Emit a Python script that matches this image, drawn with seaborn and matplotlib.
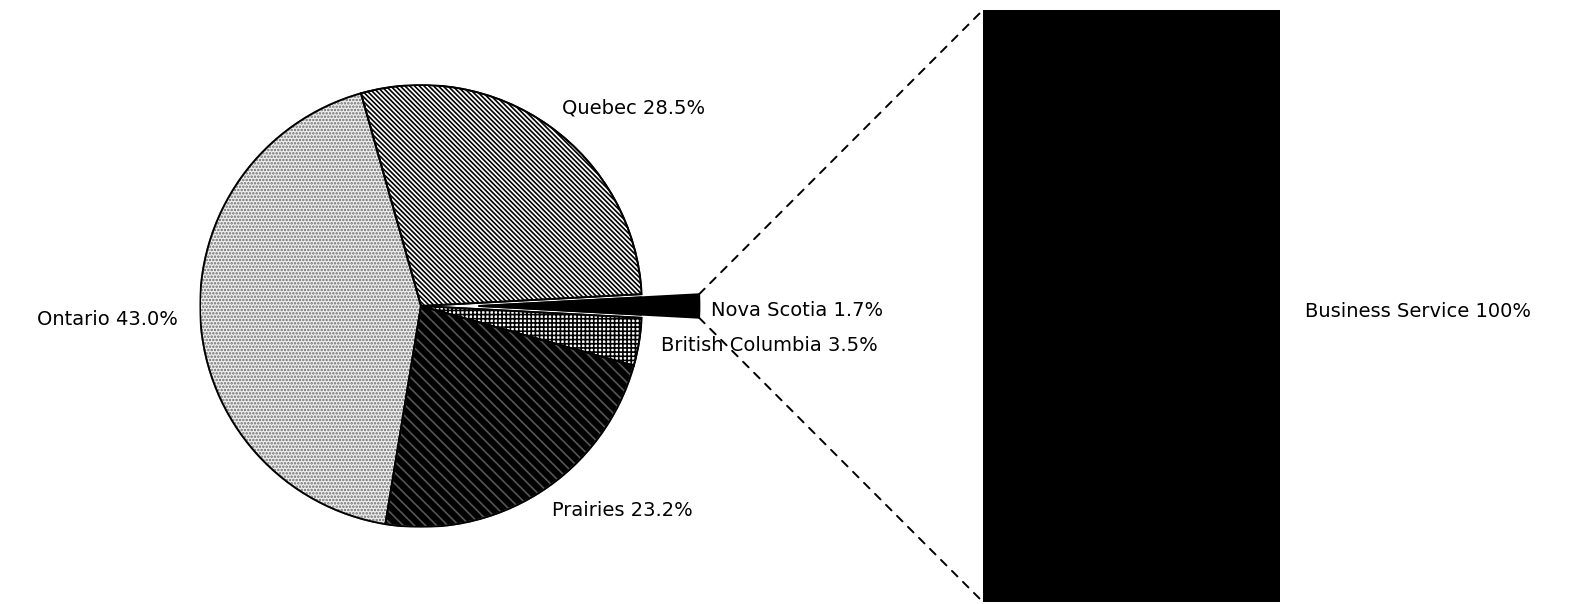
import matplotlib
matplotlib.use("Agg")
import matplotlib.pyplot as plt
import seaborn as sns
import numpy as np
from matplotlib.patches import ConnectionPatch, Wedge

# ---- data ----
regions = ["Nova Scotia", "Quebec", "Ontario", "Prairies", "British Columbia"]
shares = [1.7, 28.5, 43.0, 23.2, 3.5]
sectors = ["Business Service"]
sector_shares = [100]

sns.set_style("white")
plt.rcParams["font.family"] = ["DejaVu Sans"]
plt.rcParams["hatch.linewidth"] = 1.2

W, H = 1590, 604
fig = plt.figure(figsize=(W / 100, H / 100), dpi=100)

# pie axes (square, in pixels)
cx, cy, R = 421, 306, 221
ax_pie = fig.add_axes([(cx - R) / W, (H - cy - R) / H, 2 * R / W, 2 * R / H])

labels = [f"{r} {v:.1f}%" for r, v in zip(regions, shares)]
start = -shares[0] / 100 * 360 / 2
explode = [0.26, 0, 0, 0, 0]
wedges, texts = ax_pie.pie(
    shares, labels=labels, startangle=start, counterclock=True,
    explode=explode, labeldistance=1.1,
    wedgeprops=dict(linewidth=1.3, edgecolor="black"),
    textprops=dict(fontsize=14, color="black"),
)
ax_pie.set_xlim(-1, 1)
ax_pie.set_ylim(-1, 1)
ax_pie.set_aspect("equal")
ax_pie.axis("off")
for t in texts:
    t.set_clip_on(False)

styles = {
    "Nova Scotia": dict(fc="black", hatch=None, ec="black"),
    "Quebec": dict(fc="white", hatch="\\" * 7, ec="black"),
    "Ontario": dict(fc="#efefef", hatch="." * 5, ec="#6a6a6a"),
    "Prairies": dict(fc="black", hatch="\\\\\\", ec="#555555"),
    "British Columbia": dict(fc="white", hatch="++++", ec="black"),
}
for w, r in zip(wedges, regions):
    s = styles[r]
    w.set_facecolor(s["fc"])
    w.set_edgecolor(s["ec"])
    if s["hatch"]:
        w.set_hatch(s["hatch"])

# crisp black outlines on top of every wedge
for w in wedges:
    ax_pie.add_patch(Wedge(w.center, w.r, w.theta1, w.theta2,
                           fill=False, edgecolor="black", linewidth=1.3))

# Nova Scotia label just beyond its exploded tip
ns = wedges[0]
ns_label = texts[0]
ns_label.set_position((ns.center[0] + ns.r + 0.05, ns.center[1] - 0.02))
ns_label.set_horizontalalignment("left")

# bar axes
bx0, bx1, by0, by1 = 983, 1280, 10, 602
ax_bar = fig.add_axes([bx0 / W, (H - by1) / H, (bx1 - bx0) / W, (by1 - by0) / H])
sns.barplot(x=sectors, y=sector_shares, color="black", width=1.0,
            saturation=1, ax=ax_bar, edgecolor="black")
ax_bar.set_xlim(-0.5, 0.5)
ax_bar.set_ylim(0, 100)
ax_bar.axis("off")
ax_bar.text(0.585, 49, f"{sectors[0]} {sector_shares[0]}%", fontsize=14,
            color="black", ha="left", va="center", clip_on=False)

# connector lines from exploded wedge to bar
th1, th2 = np.deg2rad(ns.theta1), np.deg2rad(ns.theta2)
p_top = (ns.center[0] + ns.r * np.cos(th2), ns.center[1] + ns.r * np.sin(th2))
p_bot = (ns.center[0] + ns.r * np.cos(th1), ns.center[1] + ns.r * np.sin(th1))
for pa, pb in [(p_top, (-0.5, 100)), (p_bot, (-0.5, 0))]:
    con = ConnectionPatch(xyA=pa, coordsA=ax_pie.transData,
                          xyB=pb, coordsB=ax_bar.transData,
                          color="black", linestyle=(0, (4, 4)), linewidth=1.4)
    fig.add_artist(con)

fig.savefig("out.png", dpi=100, facecolor="white")
